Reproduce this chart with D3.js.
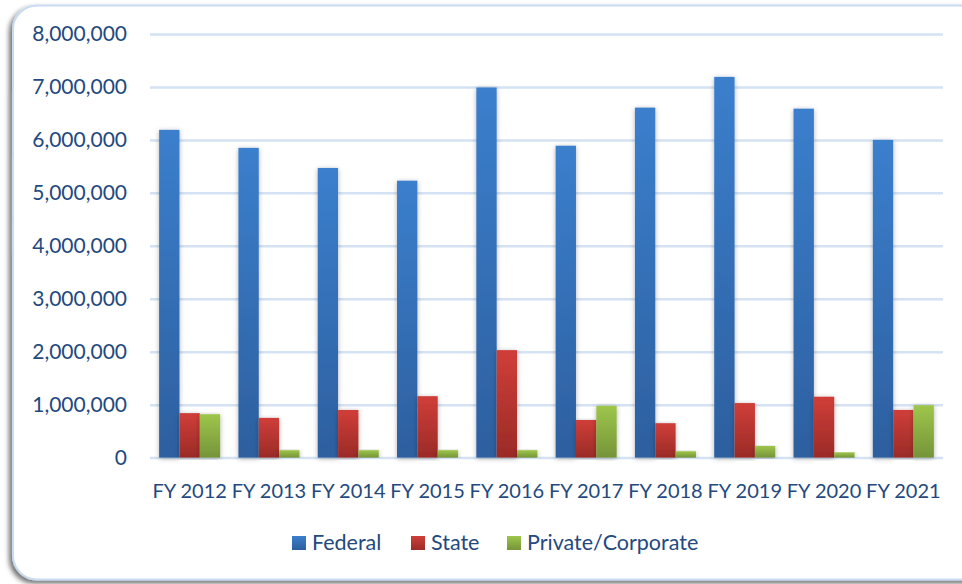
<!DOCTYPE html>
<html>
<head>
<meta charset="utf-8">
<script src="https://cdn.jsdelivr.net/npm/d3@7"></script>
<style>
  body { margin: 0; background: #ffffff; }
  text { font-family: Lato, "Open Sans", sans-serif; }
</style>
</head>
<body>
<div id="chart-area"></div>
<script>
// data
var years = ["FY 2012", "FY 2013", "FY 2014", "FY 2015", "FY 2016", "FY 2017", "FY 2018", "FY 2019", "FY 2020", "FY 2021"];
var seriesNames = ["Federal", "State", "Private/Corporate"];
var federal = [6190000, 5850000, 5470000, 5230000, 6990000, 5890000, 6610000, 7190000, 6590000, 6000000];
var state   = [840000, 750000, 900000, 1160000, 2030000, 710000, 650000, 1030000, 1150000, 900000];
var privateCorp = [820000, 140000, 140000, 140000, 140000, 980000, 120000, 220000, 100000, 990000];
var yTicks = [0, 1000000, 2000000, 3000000, 4000000, 5000000, 6000000, 7000000, 8000000];

var width = 962;
var height = 584;
var textColor = "#23497e";

var svg = d3.select("#chart-area")
    .append("svg")
        .attr("width", width)
        .attr("height", height);

var defs = svg.append("defs");

// frame shadow
var fs = defs.append("filter").attr("id", "frameShadow")
    .attr("x", "-5%").attr("y", "-5%").attr("width", "110%").attr("height", "110%");
fs.append("feDropShadow")
    .attr("dx", -3).attr("dy", 3).attr("stdDeviation", 2.5)
    .attr("flood-color", "#000").attr("flood-opacity", 0.55);

var bs = defs.append("filter").attr("id", "barShadow")
    .attr("x", "-40%").attr("y", "-5%").attr("width", "180%").attr("height", "110%");
bs.append("feDropShadow")
    .attr("dx", 0).attr("dy", 1).attr("stdDeviation", 2.5)
    .attr("flood-color", "#000").attr("flood-opacity", 0.3);

var colors = [
    ["#3b7fcd", "#2d5f9f"],
    ["#d03e39", "#9a2b27"],
    ["#9ec64b", "#759439"]
];
colors.forEach((c, i) => {
    var lg = defs.append("linearGradient").attr("id", "grad" + i)
        .attr("x1", 0).attr("y1", 0).attr("x2", 0).attr("y2", 1);
    lg.append("stop").attr("offset", "0%").attr("stop-color", c[0]);
    lg.append("stop").attr("offset", "100%").attr("stop-color", c[1]);
});

// rounded frame
svg.append("rect")
    .attr("x", 13).attr("y", 5.5)
    .attr("width", 980).attr("height", 574)
    .attr("rx", 24).attr("ry", 24)
    .attr("fill", "#ffffff")
    .attr("stroke", "#c9dbf0")
    .attr("stroke-width", 2)
    .attr("filter", "url(#frameShadow)");

var x0 = d3.scaleBand()
    .domain(years)
    .range([150, 943])
    .paddingInner(0.23)
    .paddingOuter(0.115);

var x1 = d3.scaleBand()
    .domain(seriesNames)
    .range([0, x0.bandwidth()])
    .padding(0);

var y = d3.scaleLinear()
    .domain([0, 8000000])
    .range([457.6, 34]);

// grid lines
var leftAxis = d3.axisLeft(y)
    .tickValues(yTicks)
    .tickSize(-(943 - 150))
    .tickPadding(23)
    .tickFormat(d3.format(","));

var ga = svg.append("g")
    .attr("transform", "translate(150, 0)")
    .call(leftAxis);
ga.select(".domain").remove();
ga.selectAll(".tick line")
    .attr("stroke", "#d4e2f3")
    .attr("stroke-width", 2.5);
ga.selectAll(".tick text")
    .attr("fill", textColor)
    .style("font-size", "21px");

var table = years.map((yr, i) => {
    return { year: yr, values: [federal[i], state[i], privateCorp[i]] };
});

var groups = svg.selectAll("g.group")
    .data(table)
    .enter()
    .append("g")
        .attr("class", "group")
        .attr("transform", (d) => "translate(" + x0(d.year) + ",0)");

groups.selectAll("rect")
    .data((d) => d.values.map((v, i) => ({ name: seriesNames[i], value: v, idx: i })))
    .enter()
    .append("rect")
        .attr("x", (d) => x1(d.name))
        .attr("y", (d) => y(d.value))
        .attr("width", x1.bandwidth())
        .attr("height", (d) => y(0) - y(d.value))
        .attr("fill", (d) => "url(#grad" + d.idx + ")")
        .attr("filter", "url(#barShadow)");

// x labels
var bottomAxis = d3.axisBottom(x0).tickSize(0).tickPadding(0);
var gb = svg.append("g")
    .attr("transform", "translate(0, 479.5)")
    .call(bottomAxis);
gb.select(".domain").remove();
gb.selectAll(".tick text")
    .attr("fill", textColor)
    .attr("dy", "0.9em")
    .style("font-size", "20px");

// legend
var legendX = [292, 411, 507];
var legend = svg.selectAll("g.legend")
    .data(seriesNames)
    .enter()
    .append("g")
        .attr("class", "legend")
        .attr("transform", (d, i) => "translate(" + legendX[i] + ", 536)");

legend.append("rect")
    .attr("width", 14).attr("height", 14)
    .attr("fill", (d, i) => "url(#grad" + i + ")");

legend.append("text")
    .attr("x", 20)
    .attr("y", 13.5)
    .attr("fill", textColor)
    .style("font-size", "21.5px")
    .text((d) => d);
</script>
</body>
</html>
